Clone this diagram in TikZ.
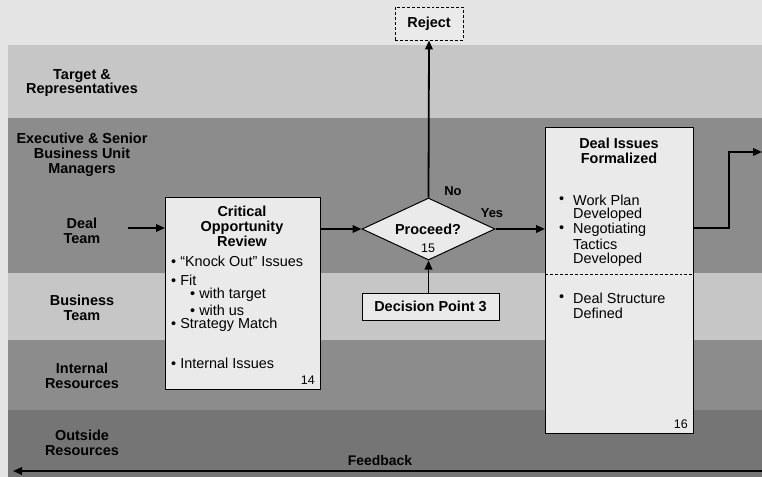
\documentclass[tikz,border=0pt]{standalone}
\usepackage{fontspec}
\setmainfont{Liberation Sans}
\usetikzlibrary{shapes.geometric,arrows.meta}
\definecolor{pagebg}{HTML}{E4E4E4}
\definecolor{bandlight}{HTML}{C6C6C6}
\definecolor{banddark}{HTML}{8C8C8C}
\definecolor{banddarker}{HTML}{757575}
\definecolor{boxfill}{HTML}{EAEAEA}
\begin{document}
\begin{tikzpicture}[x=1bp,y=-1bp,
  lanelbl/.style={font=\bfseries\fontsize{14.5}{15}\selectfont, align=center},
  title/.style={font=\bfseries\fontsize{14.5}{15}\selectfont, align=center},
  bodytxt/.style={font=\fontsize{14.5}{15}\selectfont, anchor=west, inner sep=0},
  numtxt/.style={font=\fontsize{12.5}{13}\selectfont, inner sep=0},
  small/.style={font=\bfseries\fontsize{13}{13}\selectfont, inner sep=0},
  box/.style={draw=black, line width=1bp, fill=boxfill, inner sep=0},
  flow/.style={line width=1.8bp, -{Triangle[length=9bp,width=7.5bp]}}]
\useasboundingbox (0,0) rectangle (762,477);
\fill[pagebg] (0,0) rectangle (762,477);
% lanes
\fill[bandlight] (8,45) rectangle (762,118);
\fill[banddark] (8,118) rectangle (762,273);
\fill[bandlight] (8,273) rectangle (762,340);
\fill[banddark] (8,340) rectangle (762,410);
\fill[banddarker] (8,410) rectangle (762,477);
% lane labels
\node[lanelbl] (l1) at (82,83) {Target \&\\Representatives};
\node[lanelbl] (l2) at (82,155) {Executive \& Senior\\Business Unit\\Managers};
\node[lanelbl] (l3) at (82,231) {Deal\\Team};
\node[lanelbl] (l4) at (82,308) {Business\\Team};
\node[lanelbl] (l5) at (82,376) {Internal\\Resources};
\node[lanelbl] (l6) at (82,443) {Outside\\Resources};
% critical opportunity review box
\node[box, minimum width=155bp, minimum height=192bp, anchor=north west] (cor) at (165,197) {};
\node[title] (cort) at (242,226) {Critical\\Opportunity\\Review};
\node[bodytxt] (c1) at (171,261) {• “Knock Out” Issues};
\node[bodytxt] (c2) at (171,280) {• Fit};
\node[bodytxt] (c3) at (190,295) {• with target};
\node[bodytxt] (c4) at (190,310) {• with us};
\node[bodytxt] (c5) at (171,325) {• Strategy Match};
\node[bodytxt] (c6) at (171,363) {• Internal Issues};
\node[numtxt, anchor=east] (c14) at (315,380) {14};
% decision diamond
\node[diamond, draw=black, line width=1bp, fill=boxfill, inner sep=0, minimum width=133bp, minimum height=62bp] (dec) at (428.5,229) {};
\node[title] (dect) at (428,229) {Proceed?};
\node[numtxt] (dec15) at (428,248) {15};
% reject
\node[draw=black, densely dashed, line width=0.9bp, fill=boxfill, minimum width=68bp, minimum height=33bp, inner sep=0] (rej) at (429,23.5) {};
\node[title] (rejt) at (429,24) {Reject};
% decision point 3
\node[box, minimum width=137bp, minimum height=27bp] (dp3) at (430.5,306.5) {};
\node[title] (dp3t) at (430.5,306.5) {Decision Point 3};
% deal issues formalized
\node[box, minimum width=148bp, minimum height=306bp, anchor=north west] (dif) at (545,127) {};
\node[title] (dift) at (619,150.5) {Deal Issues\\Formalized};
\node[bodytxt] (d1) at (559,200) {•};
\node[bodytxt] (d1a) at (573,200) {Work Plan};
\node[bodytxt] (d1b) at (573,214.5) {Developed};
\node[bodytxt] (d2) at (559,229.5) {•};
\node[bodytxt] (d2a) at (573,229.5) {Negotiating};
\node[bodytxt] (d2b) at (573,244.5) {Tactics};
\node[bodytxt] (d2c) at (573,259.5) {Developed};
\node[bodytxt] (d3) at (559,298) {•};
\node[bodytxt] (d3a) at (573,298) {Deal Structure};
\node[bodytxt] (d3b) at (573,313) {Defined};
\node[numtxt, anchor=east] (d16) at (688,424) {16};
\draw[densely dashed, line width=0.8bp] (dif.west |- 0,274) -- (dif.east |- 0,274);
% connectors
\coordinate (dealin) at (128,228);
\draw[flow] (dealin) -- (dealin -| cor.west);
\draw[flow] (cor.east |- dec.west) -- (dec.west);
\draw[flow] (dec.north) -- (rej.south);
\draw[flow] (dec.east) -- (dec.east -| dif.west);
\draw[flow] (dp3.north -| dec.south) -- (dec.south);
\coordinate (outr) at (762,152);
\draw[flow] (dif.east |- 0,228) -- (729,228) -- (729,152) -- (outr);
\node[small] (no) at (453,191) {No};
\node[small] (yes) at (492,213) {Yes};
% feedback
\coordinate (fbR) at (762,471);
\coordinate (fbL) at (13,471);
\draw[flow] (fbR) -- (fbL);
\node[small, font=\bfseries\fontsize{14}{14}\selectfont] (fb) at (380,461) {Feedback};
\end{tikzpicture}
\end{document}
